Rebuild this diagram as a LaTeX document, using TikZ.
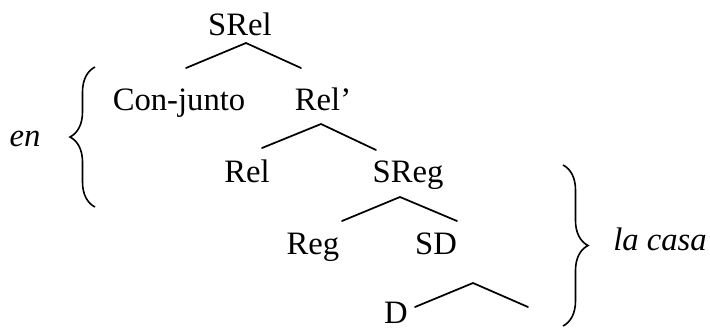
\documentclass[tikz,border=0pt]{standalone}
\usepackage{fontspec}
\setmainfont{Liberation Serif}
\usetikzlibrary{decorations.pathreplacing}
\tikzset{cat/.style={anchor=base,inner sep=0pt,font=\fontsize{24.5}{28}\selectfont},gloss/.style={cat,font=\fontsize{24.5}{28}\selectfont\itshape},branch/.style={line width=1.3pt,line cap=round},gbrace/.style={decorate,decoration={brace,amplitude=18.75pt},line width=1.2pt}}
\begin{document}
\begin{tikzpicture}[x=0.75pt,y=-0.75pt]
\useasboundingbox (0,0) rectangle (710,329);
% categories
\node[cat] (srel) at (240,35) {SRel};
\node[cat] (conj) at (179,110) {Con-junto};
\node[cat] (relp) at (323,110) {Rel’};
\node[cat] (rel) at (247,182) {Rel};
\node[cat] (sreg) at (408,182) {SReg};
\node[cat] (reg) at (313,254) {Reg};
\node[cat] (sd) at (436,254) {SD};
\node[cat] (d) at (396,323) {D};
% roofs
\coordinate (a1) at (246,43); \coordinate (l1) at (186,68); \coordinate (r1) at (301,68);
\coordinate (a2) at (321,124); \coordinate (l2) at (262,148); \coordinate (r2) at (376,150);
\coordinate (a3) at (400,197); \coordinate (l3) at (342,221); \coordinate (r3) at (457,221);
\coordinate (a4) at (473,283); \coordinate (l4) at (415,307); \coordinate (r4) at (528,307);
\foreach \k in {1,...,4}{\draw[branch] (l\k) -- (a\k) -- (r\k);}
% glosses
\coordinate (b1) at (95,207); \coordinate (t1) at (95,67);
\coordinate (b2) at (563,165); \coordinate (t2) at (563,326);
\draw[gbrace] (b1) -- (t1);
\draw[gbrace] (b2) -- (t2);
\node[gloss] (en) at (25,146) {en};
\node[gloss] (lacasa) at (660,250) {la casa};
\end{tikzpicture}
\end{document}
